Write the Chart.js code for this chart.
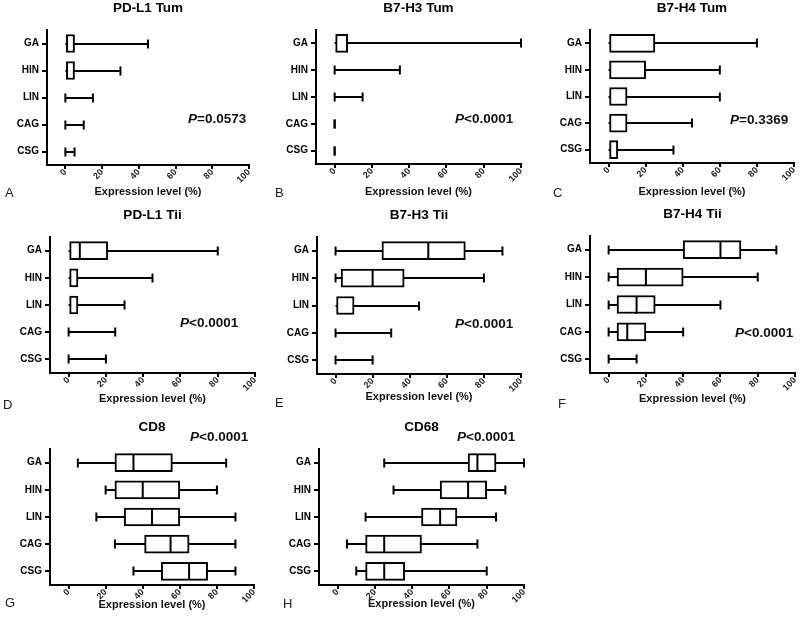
<!DOCTYPE html>
<html>
<head>
<meta charset="utf-8">
<script src="https://cdn.jsdelivr.net/npm/chart.js@4.4.0/dist/chart.umd.min.js"></script>
<style>
  body { margin: 0; background: #fff; width: 800px; height: 619px; overflow: hidden; position: relative;
         font-family: "Liberation Sans", Arial, sans-serif; }
  canvas { position: absolute; }
  .pv { position: absolute; font-weight: bold; font-size: 13.5px; color: #111; transform: translateY(-50%); white-space: nowrap; }
  .lt { position: absolute; font-size: 13px; color: #222; transform: translateY(-50%); }
</style>
</head>
<body>
<script>
const groups = ['GA', 'HIN', 'LIN', 'CAG', 'CSG'];
const xTicks = [0, 20, 40, 60, 80, 100];

// each row: [min, q1, median, q3, max] for GA, HIN, LIN, CAG, CSG
const pdl1Tum = [[0, 0, 0, 5, 45], [0, 0, 0, 5, 30], [0, 0, 0, 0, 15], [0, 0, 0, 0, 10], [0, 0, 0, 0, 5]];
const b7h3Tum = [[0, 0, 0, 7, 100], [0, 0, 0, 0, 35], [0, 0, 0, 0, 15], [0, 0, 0, 0, 0], [0, 0, 0, 0, 0]];
const b7h4Tum = [[0, 0, 0, 25, 80], [0, 0, 0, 20, 60], [0, 0, 0, 10, 60], [0, 0, 0, 10, 45], [0, 0, 0, 5, 35]];
const pdl1Tii = [[0, 0, 6, 21, 80], [0, 0, 0, 5, 45], [0, 0, 0, 5, 30], [0, 0, 0, 0, 25], [0, 0, 0, 0, 20]];
const b7h3Tii = [[0, 25, 50, 70, 90], [0, 3, 20, 37, 80], [0, 0, 0, 10, 45], [0, 0, 0, 0, 30], [0, 0, 0, 0, 20]];
const b7h4Tii = [[0, 40, 60, 71, 90], [0, 4.5, 20, 40, 80], [0, 4.5, 15, 25, 60], [0, 4.5, 10, 20, 40], [0, 0, 0, 0, 15]];
const cd8 = [[5, 25, 35, 56, 85], [20, 25, 40, 60, 80], [15, 30, 45, 60, 90], [25, 41, 55, 65, 90], [35, 50, 65, 75, 90]];
const cd68 = [[25, 70, 75, 85, 100], [30, 55, 70, 80, 90], [15, 45, 55, 64, 85], [5, 15, 25, 45, 75], [10, 15, 25, 36, 80]];

const titles = ['PD-L1 Tum', 'B7-H3 Tum', 'B7-H4 Tum', 'PD-L1 Tii', 'B7-H3 Tii', 'B7-H4 Tii', 'CD8', 'CD68'];
const pValues = ['=0.0573', '<0.0001', '=0.3369', '<0.0001', '<0.0001', '<0.0001', '<0.0001', '<0.0001'];
const letters = ['A', 'B', 'C', 'D', 'E', 'F', 'G', 'H'];
const allStats = [pdl1Tum, b7h3Tum, b7h4Tum, pdl1Tii, b7h3Tii, b7h4Tii, cd8, cd68];

// layout: chart area [left, top, right, bottom], axis title y, p-value pos, letter pos
const layout = [
  { area: [47, 30, 249, 165], axisY: 192, p: [188, 118], l: [5, 192] },
  { area: [316, 30, 521, 164], axisY: 192, p: [455, 118], l: [275, 192] },
  { area: [590, 30, 794, 163], axisY: 192, p: [730, 119], l: [553, 192] },
  { area: [50, 237, 255, 373], axisY: 399, p: [180, 322], l: [3, 404] },
  { area: [317, 237, 521, 374], axisY: 397, p: [455, 323], l: [275, 402] },
  { area: [590, 236, 795, 373], axisY: 399, p: [735, 332], l: [558, 403] },
  { area: [50, 449, 254, 585], axisY: 605, p: [190, 436], l: [5, 602] },
  { area: [319, 449, 524, 585], axisY: 604, p: [457, 436], l: [283, 603] }
];

const boxPlot = {
  id: 'boxPlot',
  beforeDatasetsDraw(chart, args, opts) {
    const { ctx, scales: { x, y } } = chart;
    ctx.save();
    ctx.strokeStyle = '#000';
    ctx.lineWidth = 2;
    opts.stats.forEach((s, i) => {
      const py = Math.round(y.getPixelForValue(i));
      ctx.beginPath();
      ctx.moveTo(x.getPixelForValue(s[0]), py);
      ctx.lineTo(x.getPixelForValue(s[4]), py);
      ctx.stroke();
      // whisker caps, skipped where the box edge already sits
      const hasBox = s[3] > s[1];
      [[s[0], s[1]], [s[4], s[3]]].forEach(([v, edge]) => {
        if (hasBox && v === edge) return;
        const px = x.getPixelForValue(v);
        ctx.beginPath();
        ctx.moveTo(px, py - 4.5);
        ctx.lineTo(px, py + 4.5);
        ctx.stroke();
      });
    });
    ctx.restore();
  },
  afterDatasetsDraw(chart, args, opts) {
    const { ctx, scales: { x, y } } = chart;
    ctx.save();
    ctx.strokeStyle = '#000';
    ctx.lineWidth = 2;
    opts.stats.forEach((s, i) => {
      if (s[2] <= s[1] || s[2] >= s[3]) return;
      const py = Math.round(y.getPixelForValue(i));
      const mx = x.getPixelForValue(s[2]);
      ctx.beginPath();
      ctx.moveTo(mx, py - 9);
      ctx.lineTo(mx, py + 9);
      ctx.stroke();
    });
    ctx.restore();
  }
};

const FONT = '"Liberation Sans", Arial, sans-serif';

layout.forEach((lay, k) => {
  const [L, T, R, B] = lay.area;
  const cl = L - 47, ct = T - 32, cb = lay.axisY + 9;
  const cw = R - cl + 8, ch = cb - ct;
  const cv = document.createElement('canvas');
  cv.width = cw; cv.height = ch;
  cv.style.left = cl + 'px'; cv.style.top = ct + 'px';
  cv.style.width = cw + 'px'; cv.style.height = ch + 'px';
  document.body.appendChild(cv);

  const stats = allStats[k];
  new Chart(cv, {
    type: 'bar',
    data: {
      labels: groups,
      datasets: [{
        data: stats.map(s => [s[1], s[3]]),
        backgroundColor: '#fff',
        borderColor: '#000',
        borderWidth: 2,
        borderSkipped: false,
        barThickness: 18
      }]
    },
    options: {
      indexAxis: 'y',
      responsive: false,
      animation: false,
      devicePixelRatio: 1,
      layout: { padding: { left: 0, right: 8, top: 0, bottom: 0 } },
      plugins: {
        legend: { display: false },
        tooltip: { enabled: false },
        title: {
          display: true, text: titles[k], color: '#000', fullSize: false,
          font: { family: FONT, size: 13.5, weight: 'bold' },
          padding: { top: 2.2, bottom: 13.6 }
        },
        boxPlot: { stats: stats }
      },
      scales: {
        x: {
          type: 'linear', min: -10, max: 100,
          afterBuildTicks: s => { s.ticks = xTicks.map(v => ({ value: v })); },
          afterFit: s => { s.height = cb - B; s.paddingLeft = 0; s.paddingRight = 0; },
          ticks: { color: '#222', font: { family: FONT, size: 9, weight: 'bold' }, maxRotation: 45, minRotation: 45, padding: -2 },
          grid: { drawOnChartArea: false, drawTicks: true, tickLength: 4, color: '#000', lineWidth: 2 },
          border: { color: '#000', width: 2 },
          title: { display: true, text: 'Expression level (%)', color: '#111',
                   font: { family: FONT, size: 11, weight: 'bold' }, padding: { top: 0, bottom: 2.4 } }
        },
        y: {
          type: 'category', offset: true,
          afterFit: s => { s.width = 47; s.paddingTop = 0; s.paddingBottom = 0; },
          ticks: { color: '#000', font: { family: FONT, size: 10, weight: 'bold' }, padding: 3 },
          grid: { offset: false, drawOnChartArea: false, drawTicks: true, tickLength: 5, color: '#000', lineWidth: 2 },
          border: { color: '#000', width: 2 }
        }
      }
    },
    plugins: [boxPlot]
  });

  const pv = document.createElement('div');
  pv.className = 'pv';
  pv.innerHTML = '<i>P</i>' + pValues[k].replace('<', '&lt;');
  pv.style.left = lay.p[0] + 'px'; pv.style.top = lay.p[1] + 'px';
  document.body.appendChild(pv);

  const lt = document.createElement('div');
  lt.className = 'lt';
  lt.textContent = letters[k];
  lt.style.left = lay.l[0] + 'px'; lt.style.top = lay.l[1] + 'px';
  document.body.appendChild(lt);
});
</script>
</body>
</html>
